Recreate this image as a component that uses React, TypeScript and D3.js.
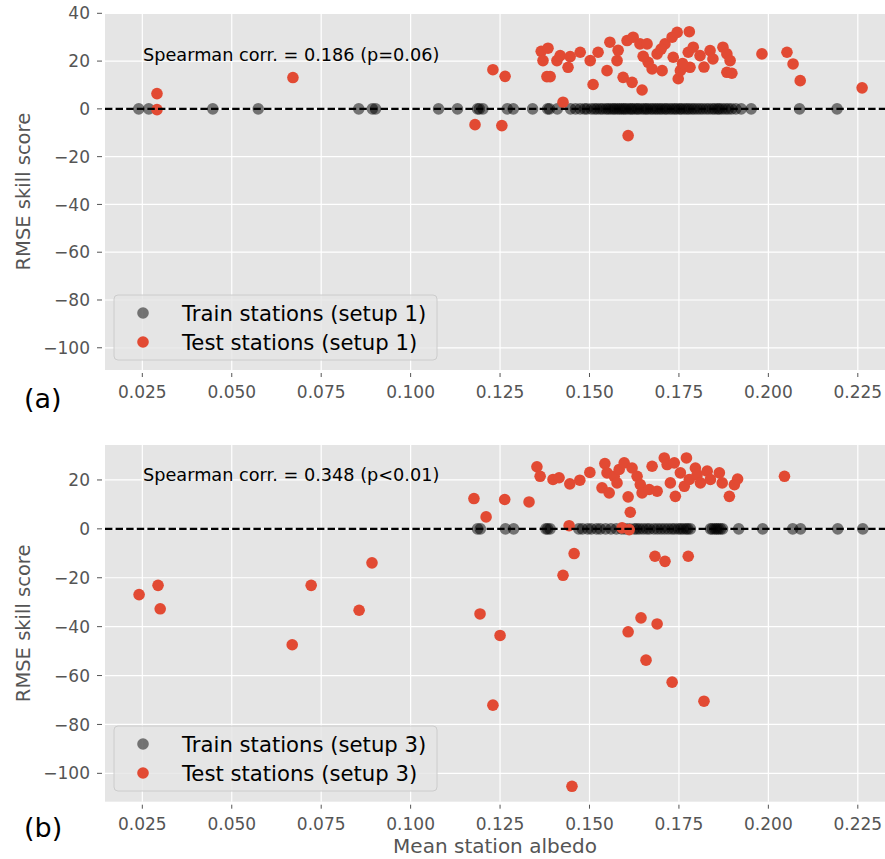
import React from "react";
import * as d3 from "d3";

// ---------- data ----------
const xTicks = [0.025, 0.05, 0.075, 0.1, 0.125, 0.15, 0.175, 0.2, 0.225];
const yTicksA = [40, 20, 0, -20, -40, -60, -80, -100];
const yTicksB = [20, 0, -20, -40, -60, -80, -100];

// panel (a): setup 1
const trainAlbedo1 = [0.0240, 0.0268, 0.0447, 0.0574, 0.0855, 0.0893, 0.0902, 0.1078, 0.1131, 0.1187, 0.1192, 0.1202, 0.1270, 0.1287, 0.1341, 0.1383, 0.1388, 0.1410, 0.1447, 0.1461, 0.1474, 0.1486, 0.1493, 0.1505, 0.1514, 0.1521, 0.1530, 0.1537, 0.1546, 0.1552, 0.1559, 0.1566, 0.1571, 0.1578, 0.1584, 0.1590, 0.1596, 0.1601, 0.1608, 0.1615, 0.1619, 0.1626, 0.1633, 0.1637, 0.1645, 0.1652, 0.1658, 0.1663, 0.1671, 0.1677, 0.1684, 0.1690, 0.1697, 0.1703, 0.1711, 0.1716, 0.1724, 0.1731, 0.1738, 0.1744, 0.1752, 0.1757, 0.1765, 0.1772, 0.1778, 0.1786, 0.1793, 0.1801, 0.1809, 0.1817, 0.1826, 0.1834, 0.1843, 0.1850, 0.1858, 0.1863, 0.1871, 0.1880, 0.1888, 0.1897, 0.1909, 0.1924, 0.1952, 0.2087, 0.2192];
const trainScore1 = trainAlbedo1.map(() => 0);

const testAlbedo1 = [0.0291, 0.0291, 0.0671, 0.1230, 0.1264, 0.1255, 0.1180, 0.1426, 0.1365, 0.1384, 0.1370, 0.1381, 0.1390, 0.1409, 0.1418, 0.1440, 0.1446, 0.1474, 0.1502, 0.1510, 0.1524, 0.1549, 0.1557, 0.1577, 0.1594, 0.1605, 0.1622, 0.1619, 0.1641, 0.1647, 0.1661, 0.1664, 0.1675, 0.1689, 0.1703, 0.1711, 0.1731, 0.1745, 0.1734, 0.1748, 0.1754, 0.1779, 0.1776, 0.1790, 0.1781, 0.1809, 0.1837, 0.1845, 0.1873, 0.1884, 0.1893, 0.1884, 0.1898, 0.1982, 0.2052, 0.2069, 0.2089, 0.2262, 0.1608, 0.1580, 0.1650, 0.1700, 0.1760, 0.1820];
const testScore1 = [6.4, -0.3, 13.1, 16.4, 13.6, -7.0, -6.6, 2.8, 24.1, 25.4, 20.2, 13.5, 13.5, 20.2, 22.3, 17.4, 21.9, 23.7, 20.2, 10.2, 23.7, 16.0, 27.9, 20.2, 13.2, 28.6, 30.0, 11.1, 27.2, 7.9, 27.2, 19.5, 16.7, 23.0, 16.0, 27.2, 30.0, 32.0, 21.6, 12.6, 16.0, 32.3, 23.7, 25.8, 17.4, 22.3, 24.4, 20.9, 25.8, 23.0, 20.2, 15.3, 14.9, 23.0, 23.7, 18.8, 11.8, 8.8, -11.2, 24.5, 22.0, 25.0, 19.0, 17.5];

// panel (b): setup 3
const trainAlbedo3 = [0.1187, 0.1195, 0.1265, 0.1288, 0.1378, 0.1383, 0.1390, 0.1470, 0.1480, 0.1495, 0.1505, 0.1520, 0.1530, 0.1545, 0.1560, 0.1575, 0.1590, 0.1600, 0.1612, 0.1625, 0.1632, 0.1640, 0.1650, 0.1660, 0.1668, 0.1680, 0.1690, 0.1700, 0.1710, 0.1720, 0.1730, 0.1738, 0.1748, 0.1755, 0.1762, 0.1770, 0.1775, 0.1782, 0.1838, 0.1843, 0.1850, 0.1855, 0.1860, 0.1866, 0.1872, 0.1917, 0.1984, 0.2068, 0.2090, 0.2194, 0.2264];
const trainScore3 = trainAlbedo3.map(() => 0);

const testAlbedo3 = [0.1177, 0.1211, 0.0892, 0.0294, 0.0722, 0.0241, 0.0300, 0.0669, 0.0856, 0.1194, 0.1230, 0.1250, 0.1426, 0.1451, 0.1644, 0.1689, 0.1608, 0.1658, 0.1731, 0.1820, 0.1711, 0.1683, 0.1776, 0.1263, 0.1331, 0.1353, 0.1362, 0.1398, 0.1415, 0.1445, 0.1473, 0.1501, 0.1443, 0.1457, 0.1543, 0.1549, 0.1535, 0.1555, 0.1569, 0.1583, 0.1597, 0.1577, 0.1591, 0.1611, 0.1608, 0.1614, 0.1619, 0.1633, 0.1642, 0.1647, 0.1667, 0.1675, 0.1689, 0.1709, 0.1717, 0.1737, 0.1726, 0.1740, 0.1754, 0.1765, 0.1771, 0.1779, 0.1796, 0.1801, 0.1810, 0.1829, 0.1838, 0.1863, 0.1871, 0.1891, 0.1905, 0.1914, 0.2045];
const testScore3 = [12.4, 4.9, -13.9, -23.1, -23.1, -26.9, -32.7, -47.4, -33.3, -34.8, -72.1, -43.6, -19.0, -105.3, -36.4, -38.9, -42.1, -53.7, -62.7, -70.5, -13.3, -11.2, -11.2, 12.0, 11.0, 25.4, 21.5, 20.2, 20.9, 18.4, 19.9, 23.1, 1.3, -10.1, 26.7, 22.9, 16.8, 14.7, 21.5, 24.3, 27.0, 18.8, 0.4, -0.3, 13.1, 6.8, 24.9, 21.5, 18.1, 14.7, 16.1, 25.6, 15.4, 29.0, 26.3, 27.0, 18.8, 13.3, 22.9, 17.4, 29.0, 20.2, 24.9, 22.2, 18.8, 23.6, 20.2, 22.9, 18.8, 13.3, 18.1, 20.4, 21.5];

// ---------- layout ----------
const W = 885;
const H = 859;
const FONT = "DejaVu Sans, sans-serif";
const RED = "#E24A33";
const PANEL_BG = "#E5E5E5";
const TICK_C = "#555555";
const L = 105;
const R = 885;
const MR = 5.8;
const xDomain: [number, number] = [0.01457, 0.2326];

const fmtX = d3.format(".3f");
const fmtY = (v: number) => (v < 0 ? "\u2212" + Math.abs(v) : String(v));

type PanelProps = {
  id: string;
  top: number;
  bottom: number;
  yDomain: [number, number];
  yTicks: number[];
  trainX: number[];
  trainY: number[];
  testX: number[];
  testY: number[];
  spearman: string;
  spearmanY: number;
  setup: string;
  legendY: number;
  tag: string;
  tagY: number;
  xlabel?: string;
};

function Panel(p: PanelProps) {
  const x = d3.scaleLinear().domain(xDomain).range([L, R]);
  const y = d3.scaleLinear().domain(p.yDomain).range([p.bottom, p.top]);
  const midY = (p.top + p.bottom) / 2;
  const clipId = "clip-" + p.id;
  return (
    <g>
      <defs>
        <clipPath id={clipId}>
          <rect x={L} y={p.top} width={R - L} height={p.bottom - p.top} />
        </clipPath>
      </defs>
      <rect x={L} y={p.top} width={R - L} height={p.bottom - p.top} fill={PANEL_BG} />
      {xTicks.map((t) => (
        <line key={"gx" + t} x1={x(t)} x2={x(t)} y1={p.top} y2={p.bottom} stroke="#fff" strokeWidth={1.2} />
      ))}
      {p.yTicks.map((t) => (
        <line key={"gy" + t} x1={L} x2={R} y1={y(t)} y2={y(t)} stroke="#fff" strokeWidth={1.2} />
      ))}
      <g clipPath={`url(#${clipId})`}>
        {p.trainX.map((v, i) => (
          <circle key={"tr" + i} cx={x(v)} cy={y(p.trainY[i])} r={MR} fill="#000" fillOpacity={0.5} />
        ))}
        {p.testX.map((v, i) => (
          <circle key={"te" + i} cx={x(v)} cy={y(p.testY[i])} r={MR} fill={RED} />
        ))}
        <line x1={L} x2={R} y1={y(0)} y2={y(0)} stroke="#000" strokeWidth={2.2} strokeDasharray="7.4 3.2" />
      </g>
      {/* ticks */}
      {xTicks.map((t) => (
        <g key={"xt" + t}>
          <line x1={x(t)} x2={x(t)} y1={p.bottom + 3} y2={p.bottom + 7} stroke={TICK_C} strokeWidth={1} />
          <text x={x(t)} y={p.bottom + 28} textAnchor="middle" fontFamily={FONT} fontSize={17} fill={TICK_C}>
            {fmtX(t)}
          </text>
        </g>
      ))}
      {p.yTicks.map((t) => (
        <g key={"yt" + t}>
          <line x1={L - 8} x2={L - 3} y1={y(t)} y2={y(t)} stroke={TICK_C} strokeWidth={1} />
          <text x={L - 15} y={y(t)} dy="0.36em" textAnchor="end" fontFamily={FONT} fontSize={17} fill={TICK_C}>
            {fmtY(t)}
          </text>
        </g>
      ))}
      <text
        transform={`translate(30,${midY}) rotate(-90)`}
        textAnchor="middle"
        fontFamily={FONT}
        fontSize={19.5}
        fill={TICK_C}
      >
        RMSE skill score
      </text>
      <text x={143} y={p.spearmanY} fontFamily={FONT} fontSize={17.7} fill="#000">
        {p.spearman}
      </text>
      {/* legend */}
      <rect x={114} y={p.legendY} width={323} height={65} rx={4} fill={PANEL_BG} fillOpacity={0.8} stroke="#CCCCCC" strokeWidth={1} />
      <circle cx={143} cy={p.legendY + 18} r={MR} fill="#000" fillOpacity={0.5} />
      <circle cx={143} cy={p.legendY + 47} r={MR} fill={RED} />
      <text x={182} y={p.legendY + 18} dy="0.36em" fontFamily={FONT} fontSize={21.2} fill="#000">
        {`Train stations (${p.setup})`}
      </text>
      <text x={182} y={p.legendY + 47} dy="0.36em" fontFamily={FONT} fontSize={21.2} fill="#000">
        {`Test stations (${p.setup})`}
      </text>
      <text x={24} y={p.tagY} fontFamily={FONT} fontSize={27} fill="#000">
        {p.tag}
      </text>
      {p.xlabel ? (
        <text x={(L + R) / 2} y={853} textAnchor="middle" fontFamily={FONT} fontSize={20} fill={TICK_C}>
          {p.xlabel}
        </text>
      ) : null}
    </g>
  );
}

export default function App() {
  return (
    <svg
      width={W}
      height={H}
      viewBox={`0 0 ${W} ${H}`}
      style={{ position: "absolute", left: 0, top: 0, background: "#fff" }}
    >
      <rect x={0} y={0} width={W} height={H} fill="#fff" />
      <Panel
        id="a"
        top={13.3}
        bottom={370}
        yDomain={[-109.3, 40]}
        yTicks={yTicksA}
        trainX={trainAlbedo1}
        trainY={trainScore1}
        testX={testAlbedo1}
        testY={testScore1}
        spearman="Spearman corr. = 0.186 (p=0.06)"
        spearmanY={61}
        setup="setup 1"
        legendY={295}
        tag="(a)"
        tagY={408}
      />
      <Panel
        id="b"
        top={445}
        bottom={801.7}
        yDomain={[-111.6, 34.3]}
        yTicks={yTicksB}
        trainX={trainAlbedo3}
        trainY={trainScore3}
        testX={testAlbedo3}
        testY={testScore3}
        spearman="Spearman corr. = 0.348 (p<0.01)"
        spearmanY={481}
        setup="setup 3"
        legendY={726}
        tag="(b)"
        tagY={837}
        xlabel="Mean station albedo"
      />
    </svg>
  );
}
